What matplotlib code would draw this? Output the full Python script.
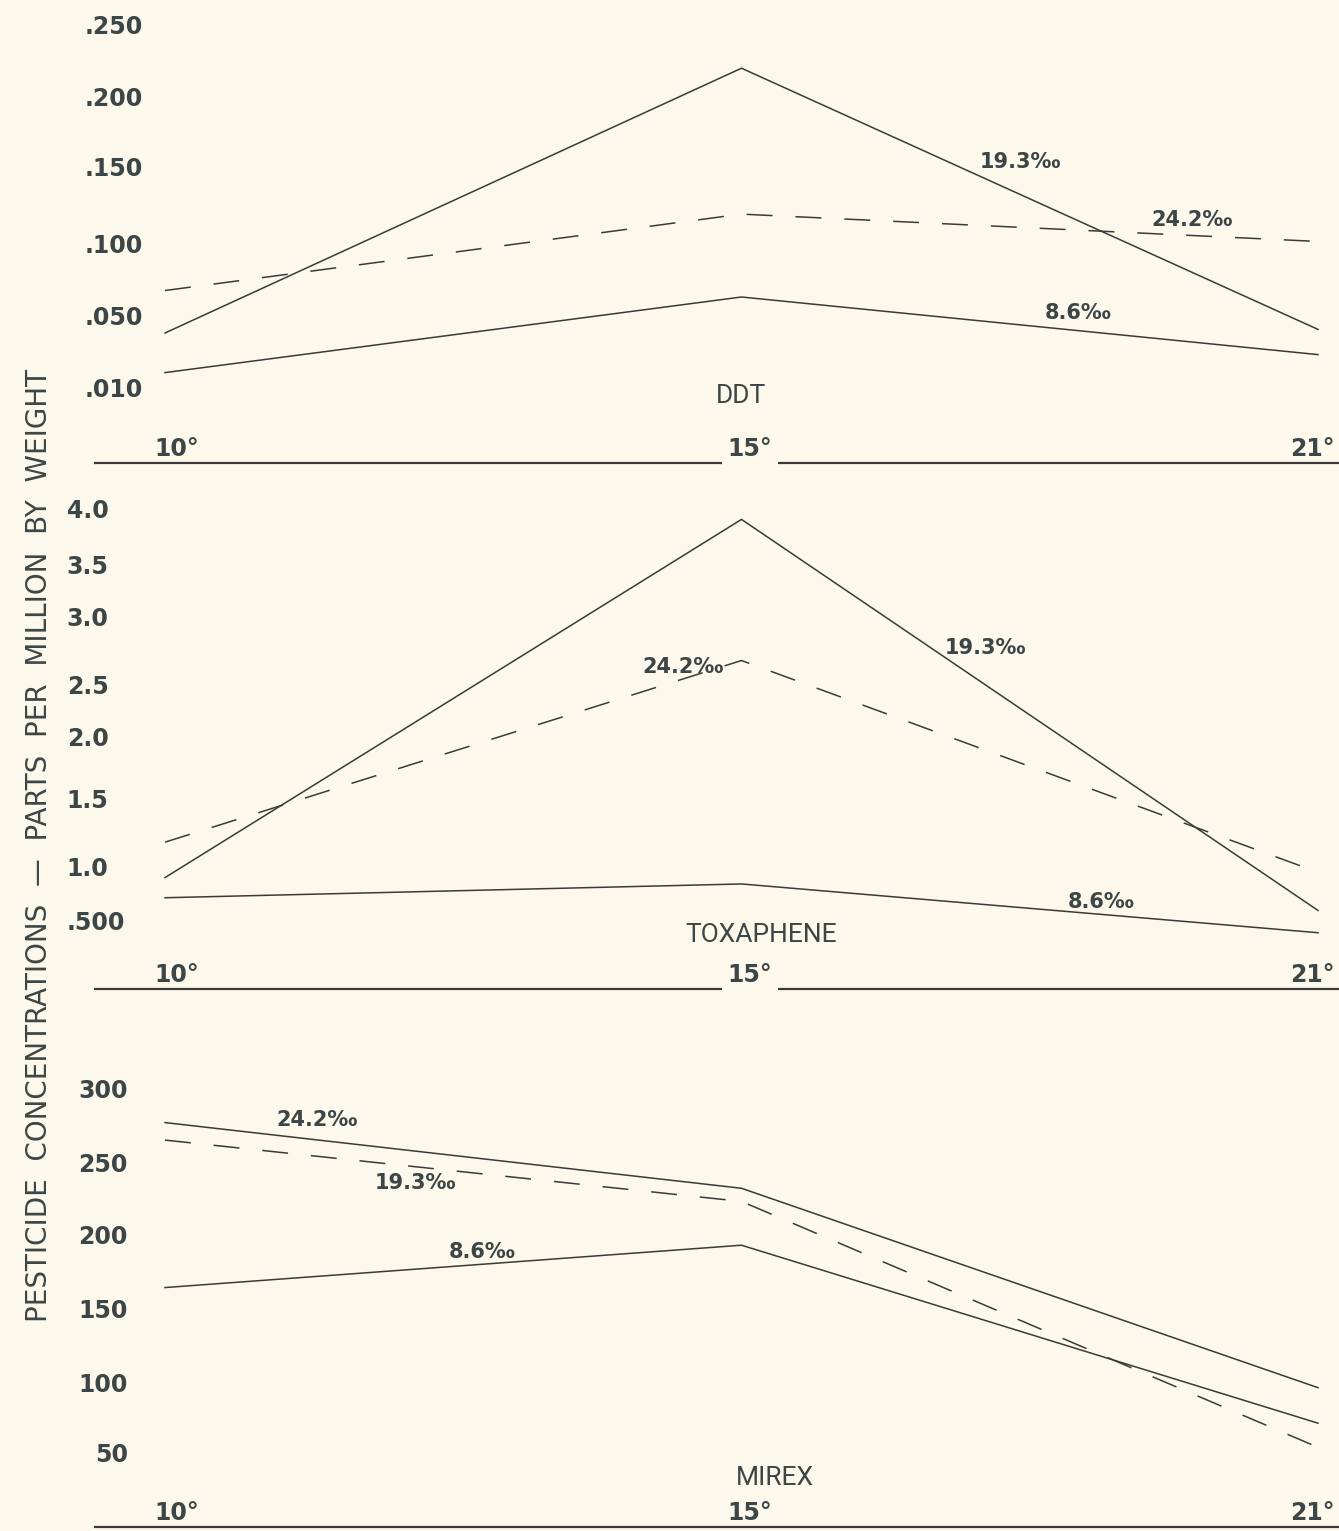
import numpy as np
import matplotlib
matplotlib.use("Agg")
import matplotlib.pyplot as plt
from matplotlib.scale import FuncScale

# temperatures (categorical positions along x)
temps = ["10°", "15°", "21°"]
xpos = [0, 1, 2]

# DDT (ppm)
ddt_ticks = [0.010, 0.050, 0.100, 0.150, 0.200, 0.250]
ddt_tick_labels = [".010", ".050", ".100", ".150", ".200", ".250"]
ddt_193 = [0.040, 0.220, 0.042]
ddt_242 = [0.067, 0.119, 0.101]
ddt_86 = [0.018, 0.0625, 0.028]

# Toxaphene (ppm)
tox_ticks = [0.5, 1.0, 1.5, 2.0, 2.5, 3.0, 3.5, 4.0]
tox_tick_labels = [".500", "1.0", "1.5", "2.0", "2.5", "3.0", "3.5", "4.0"]
tox_193 = [0.90, 3.90, 0.59]
tox_242 = [1.18, 2.68, 0.95]
tox_86 = [0.71, 0.84, 0.38]

# Mirex (ppm)
mirex_ticks = [50, 100, 150, 200, 250, 300]
mirex_tick_labels = ["50", "100", "150", "200", "250", "300"]
mirex_242 = [277, 232, 96]
mirex_193 = [265, 223, 54]
mirex_86 = [164, 193, 71]

# the hand-drawn value axes are not evenly spaced: pixel height of each tick above the baseline
ddt_tick_px = [76, 148, 220, 296, 366, 438]
tox_tick_px = [69, 122, 191, 252, 304, 372, 424, 481]
mirex_tick_px = [74, 145, 219, 292, 365, 438]

BG = "#fdf8ec"
INK = "#3c4646"
LINE = "#3a3a3a"
W, H = 1339, 1531


def interp_extrap(v, xp, fp):
    v = np.asarray(v, dtype=float)
    out = np.interp(v, xp, fp)
    lo = fp[0] + (v - xp[0]) * (fp[1] - fp[0]) / (xp[1] - xp[0])
    hi = fp[-1] + (v - xp[-1]) * (fp[-1] - fp[-2]) / (xp[-1] - xp[-2])
    out = np.where(v < xp[0], lo, out)
    out = np.where(v > xp[-1], hi, out)
    return out


def panel(fig, top, bottom, ticks, tick_px, tick_labels, series, notes, title, title_xy,
          label_pad, label_ha="right", gap=True):
    L, R = 150, 1339
    ax = fig.add_axes([L / W, 1 - bottom / H, (R - L) / W, (bottom - top) / H])
    ax.set_facecolor("none")
    fwd = lambda v: interp_extrap(v, ticks, tick_px)
    inv = lambda p: interp_extrap(p, tick_px, ticks)
    ax.set_yscale(FuncScale(ax.yaxis, (fwd, inv)))
    ax.set_ylim(float(inv(0)), float(inv(bottom - top)))
    ax.set_xlim(-15 / 576.5, 2 + 21 / 576.5)

    for vals, style in series:
        if style == "dashed":
            ax.plot(xpos, vals, color=LINE, lw=1.1, dashes=(17, 15))
        else:
            ax.plot(xpos, vals, color=LINE, lw=1.1)

    for s in ax.spines.values():
        s.set_visible(False)
    ax.set_xticks([])
    ax.set_yticks(ticks)
    ax.set_yticklabels(tick_labels)
    ax.tick_params(axis="y", length=0, pad=label_pad, labelsize=17, labelcolor=INK)
    for lbl in ax.get_yticklabels():
        lbl.set_fontweight("bold")
        lbl.set_horizontalalignment(label_ha)

    # baseline with temperatures sitting on it
    ax.axhline(ax.get_ylim()[0], xmin=-55 / (R - L), xmax=1, color=LINE, lw=1.6, clip_on=False)
    for i, (xt, t) in enumerate(zip([0.02, 1.015, 1.99], temps)):
        box = dict(facecolor=BG, edgecolor="none", pad=4) if (gap and i == 1) else None
        ax.text(xt, 0.004, t, transform=ax.get_xaxis_transform(), ha="center", va="bottom",
                fontsize=17, fontweight="bold", color=INK, bbox=box, zorder=4)

    for (nx, ny), txt in notes:
        ax.text(nx, ny, txt, ha="center", va="center", fontsize=15, fontweight="bold", color=INK)

    ax.text(title_xy[0], title_xy[1], title, transform=ax.get_xaxis_transform(),
            ha="center", va="center", fontsize=19, color=INK, family="Roboto")
    return ax


fig = plt.figure(figsize=(W / 100, H / 100), dpi=100, facecolor=BG)

panel(fig, 0, 463, ddt_ticks, ddt_tick_px, ddt_tick_labels,
      [(ddt_193, "solid"), (ddt_242, "dashed"), (ddt_86, "solid")],
      [((1.483, 0.1536), "19.3‰"), ((1.781, 0.115), "24.2‰"), ((1.584, 0.0514), "8.6‰")],
      "DDT", (1.0, 0.145), label_pad=5)

panel(fig, 470, 989, tox_ticks, tox_tick_px, tox_tick_labels,
      [(tox_193, "solid"), (tox_242, "dashed"), (tox_86, "solid")],
      [((1.424, 2.772), "19.3‰"), ((0.899, 2.632), "24.2‰"), ((1.624, 0.670), "8.6‰")],
      "TOXAPHENE", (1.034, 0.104), label_pad=60, label_ha="left")

panel(fig, 1000, 1527, mirex_ticks, mirex_tick_px, mirex_tick_labels,
      [(mirex_242, "solid"), (mirex_193, "dashed"), (mirex_86, "solid")],
      [((0.264, 278.8), "24.2‰"), ((0.434, 235.6), "19.3‰"), ((0.550, 188.4), "8.6‰")],
      "MIREX", (1.058, 0.093), label_pad=16, gap=False)

fig.text(39 / W, 1 - 845 / H, "PESTICIDE  CONCENTRATIONS  —  PARTS  PER  MILLION  BY  WEIGHT",
         rotation=90, ha="center", va="center", fontsize=20, color=INK, family="DejaVu Sans")

fig.savefig("out.png", dpi=100, facecolor=BG)
